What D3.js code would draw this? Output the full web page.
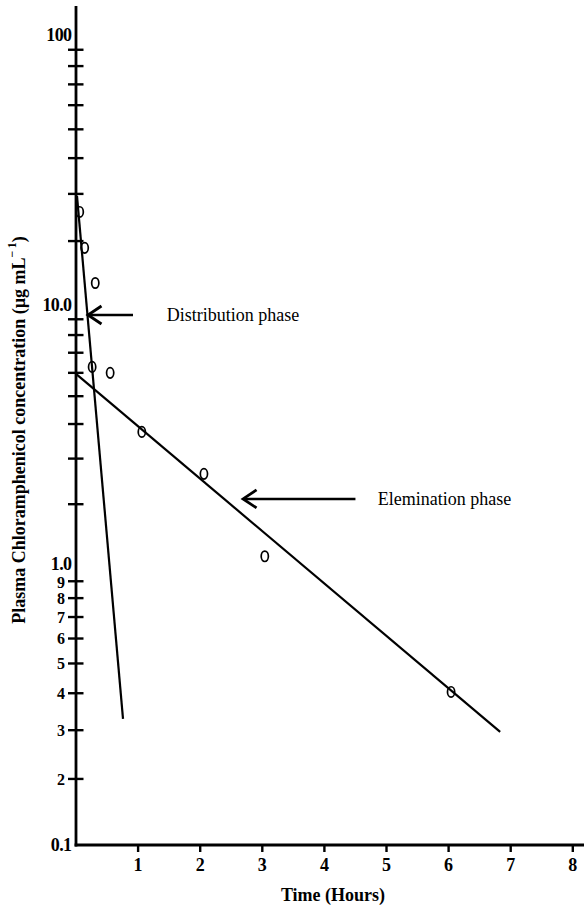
<!DOCTYPE html>
<html>
<head>
<meta charset="utf-8">
<script src="https://cdn.jsdelivr.net/npm/d3@7"></script>
<style>
  html, body { margin: 0; padding: 0; background: #fff; }
  svg { display: block; }
  text { font-family: "Liberation Serif", "Times New Roman", serif; fill: #000; }
</style>
</head>
<body>
<div id="chart"></div>
<script>
// ---------------- data ----------------
const hours = [0.06, 0.14, 0.31, 0.26, 0.55, 1.06, 2.06, 3.04, 6.04];
const concentration = [25.8, 18.8, 13.3, 6.28, 6.0, 3.75, 2.63, 1.16, 0.404];

const distributionLineHours = [0.016, 0.757];
const distributionLineConc = [29.5, 0.328];
const eliminationLineHours = [0, 6.83];
const eliminationLineConc = [5.95, 0.296];

const xTickValues = [1, 2, 3, 4, 5, 6, 7, 8];
const yMajorValues = [100, 10, 1, 0.1];
const yMajorLabels = ["100", "10.0", "1.0", "0.1"];
const yMinorTickValues = [90, 80, 70, 60, 50, 40, 30, 20, 9, 8, 7, 6, 5, 4, 3, 2,
                          0.9, 0.8, 0.7, 0.6, 0.5, 0.4, 0.3, 0.2];
const yMinorLabelValues = [0.9, 0.8, 0.7, 0.6, 0.5, 0.4, 0.3, 0.2];
const yMinorLabels = ["9", "8", "7", "6", "5", "4", "3", "2"];

const annotationText = ["Distribution phase", "Elemination phase"];
const annotationTipHours = [0.193, 2.69];
const annotationTailHours = [0.918, 4.50];
const annotationConc = [9.29, 2.10];
const annotationLabelHours = [1.46, 4.86];

const xTitle = "Time (Hours)";
const yTitle = "Plasma Chloramphenicol concentration (\u00B5g mL";

// ---------------- layout ----------------
const W = 584, H = 907;
const svg = d3.select("#chart").append("svg").attr("width", W).attr("height", H);

const x = d3.scaleLinear().domain([0, 8]).range([76, 572.8]);

// hand-drawn semi-log paper: each decade is its own segment
const yDecade = d3.scaleLinear().domain([-1, 0, 1, 2]).range([845, 566, 305, 35]);
function warp(v) {
  let l = Math.log10(v);
  if (Math.abs(l - Math.round(l)) < 1e-9) l = Math.round(l);
  const d = Math.floor(l);
  const m = l - d;
  return d + Math.pow(m, 1.2);
}
const y = v => yDecade(warp(v));

const axisX0 = x(0), axisY0 = y(0.1);

// ---------------- axes ----------------
svg.append("line")
  .attr("x1", axisX0).attr("x2", axisX0)
  .attr("y1", axisY0 + 1.5).attr("y2", 6)
  .attr("stroke", "#000").attr("stroke-width", 2.8);

svg.append("line")
  .attr("x1", axisX0 - 1.4).attr("x2", W)
  .attr("y1", axisY0).attr("y2", axisY0)
  .attr("stroke", "#000").attr("stroke-width", 2.8);

svg.append("g").selectAll("line").data(yMinorTickValues).join("line")
  .attr("x1", axisX0 - 8).attr("x2", axisX0 + 7.5)
  .attr("y1", d => y(d)).attr("y2", d => y(d))
  .attr("stroke", "#000").attr("stroke-width", 2.4);

svg.append("g").selectAll("text").data(yMajorValues).join("text")
  .attr("x", axisX0 - 4.5)
  .attr("y", d => y(d) - (d === 1 ? 2 : 0))
  .attr("dy", "0.35em")
  .attr("text-anchor", "end")
  .attr("font-size", 18).attr("font-weight", "bold")
  .attr("letter-spacing", -0.6)
  .text((d, i) => yMajorLabels[i]);

svg.append("g").selectAll("text").data(yMinorLabelValues).join("text")
  .attr("x", axisX0 - 11)
  .attr("y", d => y(d) + (d === 0.9 ? 1.5 : 0))
  .attr("dy", "0.35em")
  .attr("text-anchor", "end")
  .attr("font-size", 16).attr("font-weight", "bold")
  .text((d, i) => yMinorLabels[i]);

svg.append("g").selectAll("line").data(xTickValues).join("line")
  .attr("x1", d => x(d)).attr("x2", d => x(d))
  .attr("y1", axisY0).attr("y2", axisY0 + 7)
  .attr("stroke", "#000").attr("stroke-width", 2.4);

svg.append("g").selectAll("text").data(xTickValues).join("text")
  .attr("x", d => x(d))
  .attr("y", axisY0 + 20)
  .attr("dy", "0.35em")
  .attr("text-anchor", "middle")
  .attr("font-size", 18).attr("font-weight", "bold")
  .text(d => d);

svg.append("text")
  .attr("x", 333).attr("y", 895).attr("dy", "0.35em")
  .attr("text-anchor", "middle")
  .attr("font-size", 18).attr("font-weight", "bold")
  .text(xTitle);

const yt = svg.append("text")
  .attr("transform", "translate(19,430) rotate(-90)")
  .attr("dy", "0.35em")
  .attr("text-anchor", "middle")
  .attr("font-size", 18).attr("font-weight", "bold");
yt.append("tspan").text(yTitle);
yt.append("tspan").attr("font-size", 12).attr("dy", "-0.75em").text("\u2212\u20091");
yt.append("tspan").attr("font-size", 18).attr("dy", "0.5em").text(")");

// ---------------- fitted lines ----------------
const line = d3.line().x(d => x(d[0])).y(d => y(d[1]));
svg.append("path")
  .datum(distributionLineHours.map((h, i) => [h, distributionLineConc[i]]))
  .attr("d", line).attr("fill", "none").attr("stroke", "#000").attr("stroke-width", 2.2);
svg.append("path")
  .datum(eliminationLineHours.map((h, i) => [h, eliminationLineConc[i]]))
  .attr("d", line).attr("fill", "none").attr("stroke", "#000").attr("stroke-width", 2.2);

// ---------------- observed points ----------------
svg.append("g").selectAll("ellipse").data(hours).join("ellipse")
  .attr("cx", d => x(d))
  .attr("cy", (d, i) => y(concentration[i]))
  .attr("rx", 3.6).attr("ry", 5.2)
  .attr("fill", "none").attr("stroke", "#000").attr("stroke-width", 1.7);

// ---------------- annotations ----------------
annotationText.forEach((t, i) => {
  const ty = y(annotationConc[i]);
  const tip = x(annotationTipHours[i]);
  const tail = x(annotationTailHours[i]);
  svg.append("line")
    .attr("x1", tail).attr("x2", tip + 1)
    .attr("y1", ty).attr("y2", ty)
    .attr("stroke", "#000").attr("stroke-width", 2.6);
  svg.append("path")
    .attr("d", `M${tip + 13.5},${ty - 9} L${tip},${ty} L${tip + 13.5},${ty + 9}`)
    .attr("fill", "none").attr("stroke", "#000").attr("stroke-width", 2.8);
  svg.append("text")
    .attr("x", x(annotationLabelHours[i]))
    .attr("y", ty).attr("dy", "0.35em")
    .attr("font-size", 18)
    .text(t);
});
</script>
</body>
</html>
